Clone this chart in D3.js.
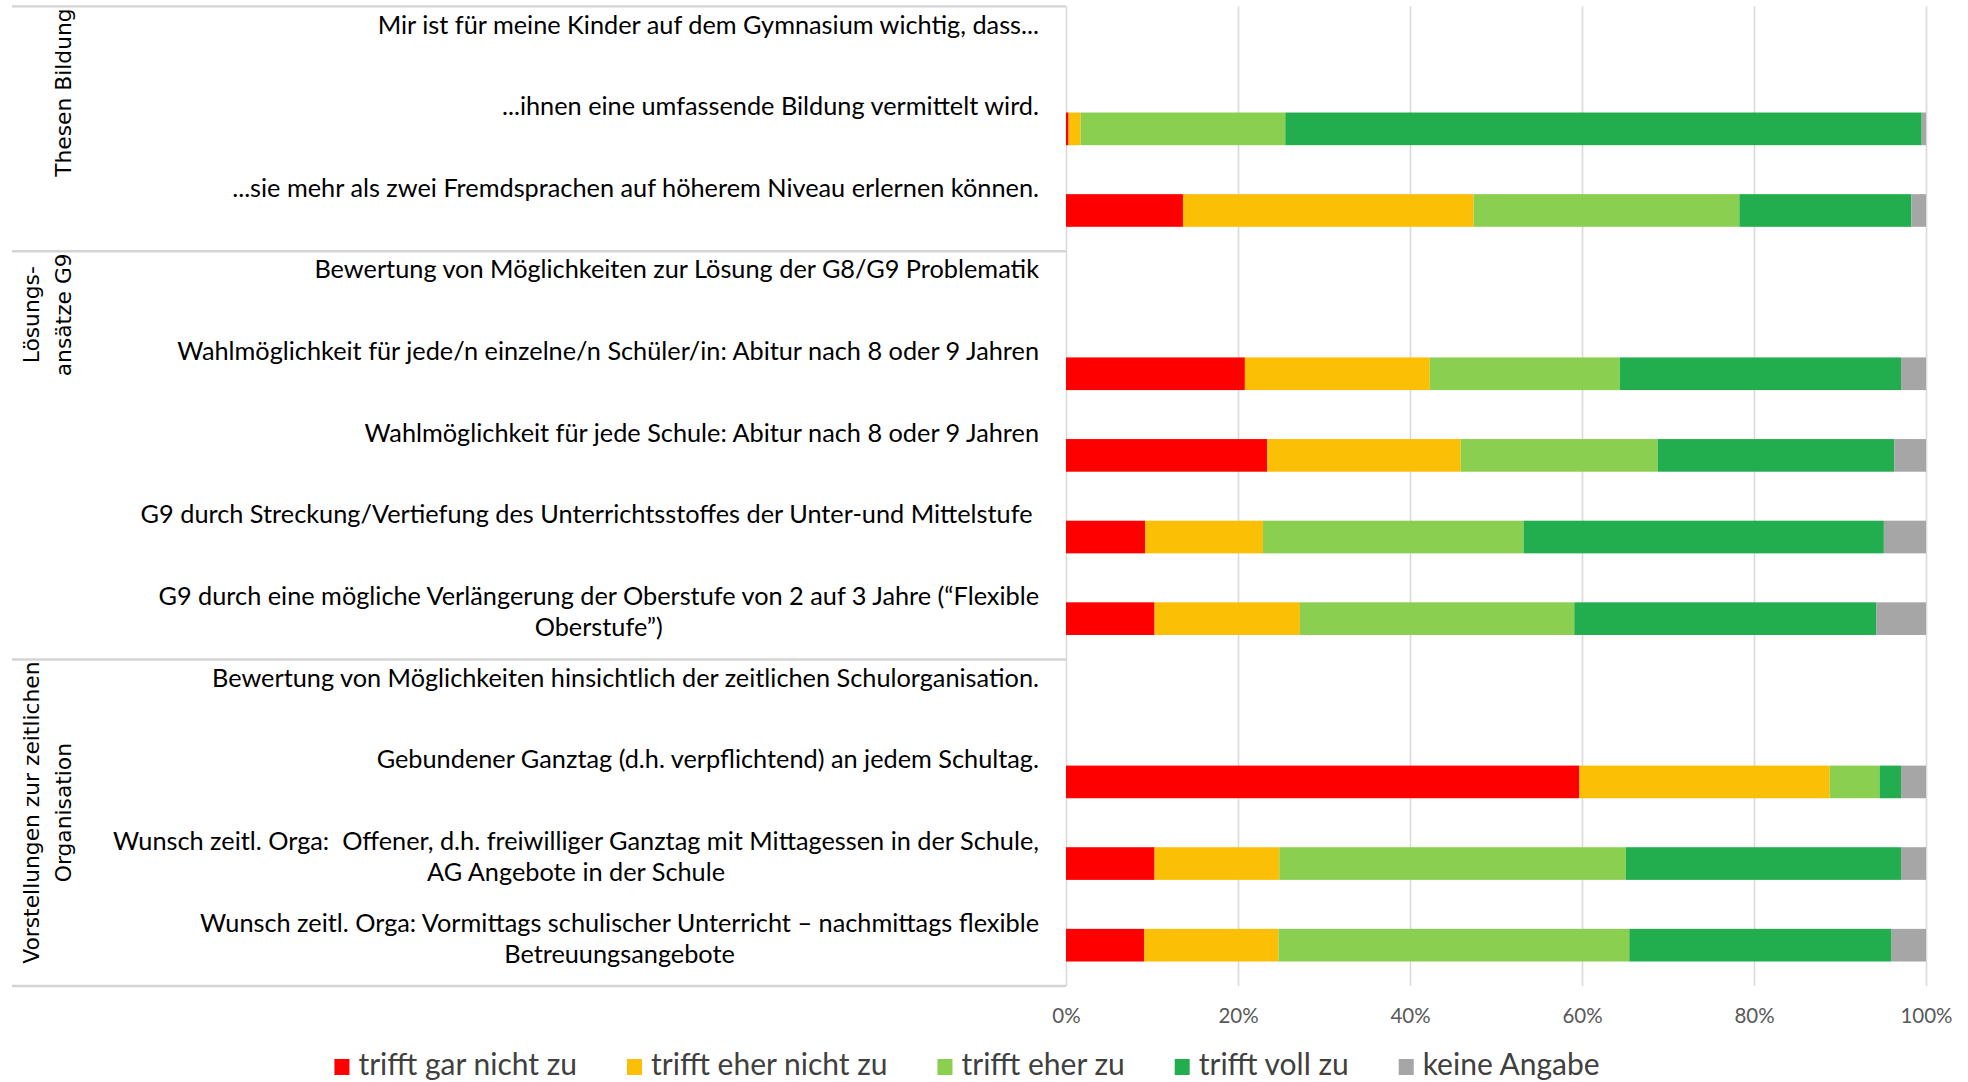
<!doctype html>
<html>
<head>
    <meta charset="utf-8">
    <title>Gymnasium Umfrage</title>
    <style>
        body { margin: 0; background: #fff; }
        text { white-space: pre; }
    </style>
</head>
<body>
    <div id="my_dataviz"></div>

    <script src="https://d3js.org/d3.v7.min.js"></script>
    <script>
        // categories (rows, top to bottom) - header rows have no bar
        var rowLabels = [
            ["Mir ist für meine Kinder auf dem Gymnasium wichtig, dass..."],
            ["...ihnen eine umfassende Bildung vermittelt wird."],
            ["...sie mehr als zwei Fremdsprachen auf höherem Niveau erlernen können."],
            ["Bewertung von Möglichkeiten zur Lösung der G8/G9 Problematik"],
            ["Wahlmöglichkeit für jede/n einzelne/n Schüler/in: Abitur nach 8 oder 9 Jahren"],
            ["Wahlmöglichkeit für jede Schule: Abitur nach 8 oder 9 Jahren"],
            ["G9 durch Streckung/Vertiefung des Unterrichtsstoffes der Unter-und Mittelstufe "],
            ["G9 durch eine mögliche Verlängerung der Oberstufe von 2 auf 3 Jahre (“Flexible", "Oberstufe”)"],
            ["Bewertung von Möglichkeiten hinsichtlich der zeitlichen Schulorganisation."],
            ["Gebundener Ganztag (d.h. verpflichtend) an jedem Schultag."],
            ["Wunsch zeitl. Orga:  Offener, d.h. freiwilliger Ganztag mit Mittagessen in der Schule,", "AG Angebote in der Schule"],
            ["Wunsch zeitl. Orga: Vormittags schulischer Unterricht – nachmittags flexible", "Betreuungsangebote"]
        ];

        // group labels on the left, with first row index of each group
        var groupLabels = [["Thesen Bildung"], ["Lösungs-", "ansätze G9"], ["Vorstellungen zur zeitlichen", "Organisation"]];
        var groupStart = [0, 3, 8];

        // series (percent)
        var seriesNames = ["trifft gar nicht zu", "trifft eher nicht zu", "trifft eher zu", "trifft voll zu", "keine Angabe"];
        var garNicht  = [null, 0.3, 13.6, null, 20.8, 23.4,  9.2, 10.3, null, 59.7, 10.3,  9.1];
        var eherNicht = [null, 1.4, 33.8, null, 21.5, 22.5, 13.7, 16.9, null, 29.1, 14.5, 15.6];
        var eherZu    = [null, 23.8, 30.9, null, 22.1, 22.9, 30.3, 31.9, null, 5.8, 40.3, 40.8];
        var vollZu    = [null, 74.0, 20.0, null, 32.7, 27.5, 41.9, 35.1, null, 2.5, 32.0, 30.5];
        var keine     = [null, 0.5,  1.7, null,  2.9,  3.7,  4.9,  5.8, null, 2.9,  2.9,  4.0];

        var ticks = [0, 20, 40, 60, 80, 100];

        var colors = ["#fe0000", "#fbbf05", "#8bcf51", "#22ae4e", "#a6a6a6"];

        var margin = {top: 6.4, right: 42, bottom: 96, left: 1066},
            W = 1968, H = 1082,
            width = W - margin.left - margin.right,
            height = H - margin.top - margin.bottom;

        var svg = d3.select("#my_dataviz")
            .append("svg")
            .attr("width", W)
            .attr("height", H)
            .style("display", "block")
            .style("background", "#fff");

        var g = svg.append("g")
            .attr("transform", "translate(" + margin.left + "," + margin.top + ")");

        var x = d3.scaleLinear().domain([0, 100]).range([0, width]);
        var y = d3.scaleBand().domain(d3.range(rowLabels.length)).range([0, height]).padding(0);
        var bw = y.bandwidth();

        // grid lines
        g.append("g")
            .call(d3.axisBottom(x).tickValues(ticks).tickSize(height).tickFormat(""))
            .call(function (a) {
                a.select(".domain").remove();
                a.selectAll("line").attr("stroke", "#d9d9d9").attr("stroke-width", 1.6);
            });

        // table lines on the left
        var lineYs = groupStart.map(function (s) { return y(s); }).concat([height]);
        g.append("g").selectAll("line")
            .data(lineYs)
            .enter().append("line")
            .attr("x1", 12 - margin.left).attr("x2", 0)
            .attr("y1", function (d) { return d; })
            .attr("y2", function (d) { return d; })
            .attr("stroke", "#d4d4d4")
            .attr("stroke-width", 2.4);

        // stacked data
        var table = rowLabels.map(function (r, i) {
            return {i: i, a: garNicht[i], b: eherNicht[i], c: eherZu[i], d: vollZu[i], e: keine[i]};
        });
        var keys = ["a", "b", "c", "d", "e"];
        var stacked = d3.stack().keys(keys)(table.filter(function (d) { return d.a !== null; }));

        g.append("g").selectAll("g")
            .data(stacked)
            .enter().append("g")
            .attr("fill", function (d, k) { return colors[k]; })
            .selectAll("rect")
            .data(function (d) { return d; })
            .enter().append("rect")
            .attr("x", function (d) { return x(d[0]); })
            .attr("width", function (d) { return x(d[1]) - x(d[0]); })
            .attr("y", function (d) { return y(d.data.i) + bw * 0.3; })
            .attr("height", bw * 0.4);

        // x axis tick labels
        g.append("g")
            .attr("transform", "translate(0," + height + ")")
            .call(d3.axisBottom(x).tickValues(ticks).tickSize(0).tickPadding(22)
                .tickFormat(function (d) { return d + "%"; }))
            .call(function (a) {
                a.select(".domain").remove();
                a.selectAll("text")
                    .attr("fill", "#595959")
                    .style("font-family", "Lato, 'Open Sans', sans-serif")
                    .style("font-size", "20.5px");
            });

        // row labels: block right aligned, lines centred inside the block
        var labelRight = 1039 - margin.left;
        var lineGap = 31.5;
        rowLabels.forEach(function (lines, i) {
            var cy = y(i) + bw / 2 - 22.5;
            var grp = g.append("g");
            var texts = grp.selectAll("text")
                .data(lines)
                .enter().append("text")
                .attr("y", function (d, k) { return cy + k * lineGap; })
                .attr("dy", "0.35em")
                .attr("text-anchor", "middle")
                .attr("fill", "#000")
                .style("font-family", "Lato, 'Open Sans', sans-serif")
                .style("font-size", "25.3px")
                .text(function (d) { return d; });
            var wMax = d3.max(texts.nodes(), function (n) { return n.getComputedTextLength(); });
            texts.attr("x", labelRight - wMax / 2);
        });

        // rotated group labels, top aligned in their band
        groupLabels.forEach(function (lines, gi) {
            var top = y(groupStart[gi]) + 2;
            var n = lines.length;
            var grp = g.append("g");
            var texts = grp.selectAll("text")
                .data(lines)
                .enter().append("text")
                .attr("text-anchor", "middle")
                .attr("dy", "0.35em")
                .attr("fill", "#000")
                .style("font-family", "'DejaVu Sans', Verdana, sans-serif")
                .style("font-size", "21.8px")
                .text(function (d) { return d; });
            var L = d3.max(texts.nodes(), function (nd) { return nd.getComputedTextLength(); });
            texts.attr("transform", function (d, k) {
                var lx = 63 - (n - 1 - k) * 32 - margin.left;
                return "translate(" + lx + "," + (top + L / 2) + ") rotate(-90)";
            });
        });

        // legend
        var legend = svg.append("g");
        var items = legend.selectAll("g")
            .data(seriesNames)
            .enter().append("g");
        items.append("rect")
            .attr("width", 15).attr("height", 16)
            .attr("y", 1059)
            .attr("fill", function (d, k) { return colors[k]; });
        items.append("text")
            .attr("x", 24)
            .attr("y", 1075)
            .attr("fill", "#404040")
            .style("font-family", "Lato, 'Open Sans', sans-serif")
            .style("font-size", "30px")
            .text(function (d) { return d; });
        var offs = [], cur = 0;
        items.each(function () {
            var tw = d3.select(this).select("text").node().getComputedTextLength();
            offs.push(cur);
            cur += 24 + tw + 50;
        });
        var total = cur - 50;
        var start = 967 - total / 2;
        items.attr("transform", function (d, k) { return "translate(" + (start + offs[k]) + ",0)"; });
    </script>
</body>
</html>
